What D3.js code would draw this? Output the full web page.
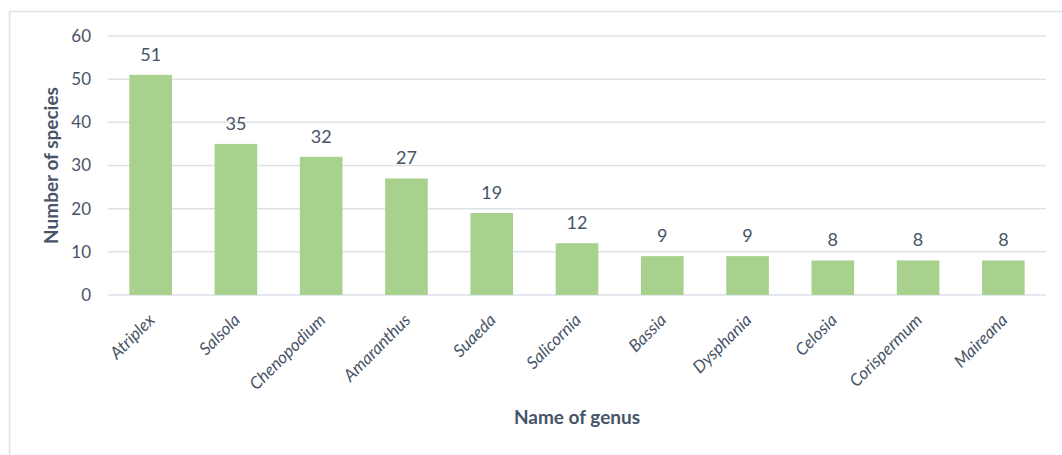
<!DOCTYPE html>
<html>
<head>
<meta charset="utf-8">
<script src="https://cdn.jsdelivr.net/npm/d3@7"></script>
<style>
  body { margin: 0; background: #fff; }
  svg text { font-family: Lato, "Open Sans", sans-serif; }
</style>
</head>
<body>
<svg id="chart"></svg>
<script>
// Data
const genera = ['Atriplex', 'Salsola', 'Chenopodium', 'Amaranthus', 'Suaeda', 'Salicornia',
                'Bassia', 'Dysphania', 'Celosia', 'Corispermum', 'Maireana'];
const speciesCounts = [51, 35, 32, 27, 19, 12, 9, 9, 8, 8, 8];
const yTicks = [0, 10, 20, 30, 40, 50, 60];

const width = 1062;
const height = 455;
const margin = {top: 36, right: 16, bottom: 160, left: 108};
const textColor = '#475467';
const gridColor = '#dde1e8';

const svg = d3.select('#chart')
    .attr('width', width)
    .attr('height', height);

// Chart border
svg.append('rect')
    .attr('x', 9.5)
    .attr('y', 11.5)
    .attr('width', width + 10)
    .attr('height', height + 10)
    .attr('fill', '#fff')
    .attr('stroke', gridColor)
    .attr('stroke-width', 1.5);

const x = d3.scaleBand()
    .domain(genera)
    .range([margin.left, width - margin.right])
    .paddingInner(0.5)
    .paddingOuter(0.25);

const y = d3.scaleLinear()
    .domain([0, 60])
    .range([height - margin.bottom, margin.top]);

// Gridlines
svg.append('g')
    .selectAll('line')
    .data(yTicks)
    .enter()
    .append('line')
    .attr('x1', margin.left)
    .attr('x2', width - margin.right)
    .attr('y1', d => y(d))
    .attr('y2', d => y(d))
    .attr('stroke', gridColor)
    .attr('stroke-width', 1.5);

// Y tick labels
svg.append('g')
    .selectAll('text')
    .data(yTicks)
    .enter()
    .append('text')
    .attr('x', 91)
    .attr('y', d => y(d))
    .attr('dy', '0.35em')
    .attr('text-anchor', 'end')
    .attr('font-size', 17)
    .attr('fill', textColor)
    .text(d => d);

// Bars
svg.append('g')
    .selectAll('rect')
    .data(genera)
    .enter()
    .append('rect')
    .attr('x', d => x(d))
    .attr('width', x.bandwidth())
    .attr('y', (d, i) => y(speciesCounts[i]))
    .attr('height', (d, i) => y(0) - y(speciesCounts[i]))
    .attr('fill', '#a9d18e');

// Value labels
svg.append('g')
    .selectAll('text')
    .data(genera)
    .enter()
    .append('text')
    .attr('x', d => x(d) + x.bandwidth() / 2)
    .attr('y', (d, i) => y(speciesCounts[i]) - 14)
    .attr('text-anchor', 'middle')
    .attr('font-size', 18)
    .attr('fill', textColor)
    .text((d, i) => speciesCounts[i]);

// X labels
svg.append('g')
    .selectAll('text')
    .data(genera)
    .enter()
    .append('text')
    .attr('transform', d => `translate(${x(d) + x.bandwidth() / 2 + 1},${y(0) + 22}) rotate(-45)`)
    .attr('text-anchor', 'end')
    .attr('dy', '0.35em')
    .attr('font-size', 17)
    .attr('font-style', 'italic')
    .attr('fill', textColor)
    .text(d => d);

// Axis titles
svg.append('text')
    .attr('x', (margin.left + width - margin.right) / 2)
    .attr('y', 424)
    .attr('text-anchor', 'middle')
    .attr('font-size', 19)
    .attr('font-weight', 'bold')
    .attr('fill', textColor)
    .text('Name of genus');

svg.append('text')
    .attr('transform', `translate(58,${(margin.top + height - margin.bottom) / 2}) rotate(-90)`)
    .attr('text-anchor', 'middle')
    .attr('font-size', 19)
    .attr('font-weight', 'bold')
    .attr('fill', textColor)
    .text('Number of species');
</script>
</body>
</html>
